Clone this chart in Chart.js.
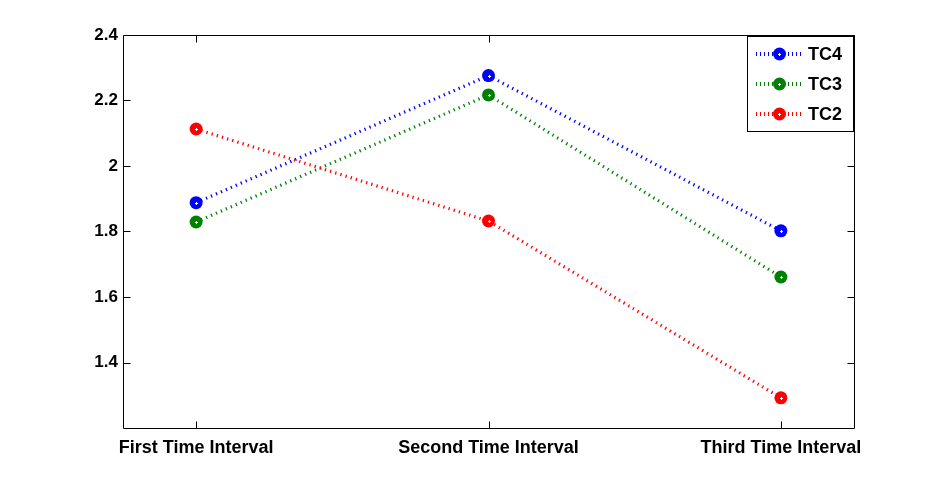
<!DOCTYPE html>
<html>
<head>
<meta charset="utf-8">
<script src="https://cdn.jsdelivr.net/npm/chart.js@4/dist/chart.umd.min.js"></script>
<style>
html,body{margin:0;padding:0;background:#fff;}
#wrap{width:944px;height:481px;position:relative;}
</style>
</head>
<body>
<div id="wrap"><canvas id="c" width="944" height="481"></canvas></div>
<script>
const categories = ["First Time Interval", "Second Time Interval", "Third Time Interval"];
const seriesNames = ["TC4", "TC3", "TC2"];
const tc4 = [1.888, 2.276, 1.802];
const tc3 = [1.829, 2.217, 1.661];
const tc2 = [2.113, 1.832, 1.292];
const yTicks = [1.4, 1.6, 1.8, 2, 2.2, 2.4];
const colors = ["#0000FF", "#008000", "#FF0000"];

const FONT = "'Liberation Sans', Arial, sans-serif";

function toPoints(arr){ return arr.map((v,i)=>({x:i+1, y:v})); }

function drawCentre(ctx, x, y){
  ctx.fillStyle = '#fff';
  ctx.fillRect(x - 1, y, 3, 1);
  ctx.fillRect(x, y - 1, 1, 3);
}

const seriesValues = [tc4, tc3, tc2];
const datasets = seriesValues.map((vals, k) => ({
  label: seriesNames[k],
  data: toPoints(vals),
  borderColor: colors[k],
  backgroundColor: colors[k],
  borderWidth: 3.2,
  borderDash: [1.3, 4.1],
  pointRadius: 6.5,
  pointHoverRadius: 6.5,
  pointBorderWidth: 0,
  pointBackgroundColor: colors[k],
  fill: false,
  tension: 0
})).reverse();

const framePlugin = {
  id: 'frame',
  afterDatasetsDraw(chart) {
    const ctx = chart.ctx;
    const a = chart.chartArea;
    const xs = chart.scales.x, ys = chart.scales.y;
    chart.data.datasets.forEach((ds, di) => {
      const meta = chart.getDatasetMeta(di);
      meta.data.forEach(pt => drawCentre(ctx, Math.round(pt.x), Math.round(pt.y)));
    });
    ctx.save();
    ctx.strokeStyle = '#000';
    ctx.lineWidth = 1;
    const L = Math.round(a.left) + 0.5, R = Math.round(a.right) + 0.5;
    const T = Math.round(a.top) + 0.5, B = Math.round(a.bottom) + 0.5;
    ctx.beginPath();
    ctx.rect(L, T, R - L, B - T);
    ctx.stroke();
    const tl = 7;
    ctx.beginPath();
    yTicks.forEach(v => {
      const y = Math.round(ys.getPixelForValue(v)) + 0.5;
      ctx.moveTo(L, y); ctx.lineTo(L + tl, y);
      ctx.moveTo(R, y); ctx.lineTo(R - tl, y);
    });
    categories.forEach((c, i) => {
      const x = Math.round(xs.getPixelForValue(i + 1)) + 0.5;
      ctx.moveTo(x, B); ctx.lineTo(x, B - tl);
      ctx.moveTo(x, T); ctx.lineTo(x, T + tl);
    });
    ctx.stroke();

    // legend
    const lx = 747.5, ly = 36.5, lw = 106, lh = 95;
    ctx.fillStyle = '#fff';
    ctx.fillRect(lx, ly, lw, lh);
    ctx.strokeStyle = '#000';
    ctx.lineWidth = 1;
    ctx.strokeRect(lx, ly, lw, lh);
    seriesNames.forEach((name, k) => {
      const cy = 54 + k * 30;
      ctx.strokeStyle = colors[k];
      ctx.lineWidth = 4;
      ctx.setLineDash([1, 3]);
      ctx.beginPath();
      ctx.moveTo(756, cy); ctx.lineTo(803, cy);
      ctx.stroke();
      ctx.setLineDash([]);
      ctx.fillStyle = colors[k];
      ctx.beginPath();
      ctx.arc(779.5, cy, 6.5, 0, Math.PI * 2);
      ctx.fill();
      drawCentre(ctx, 779, cy);
      ctx.fillStyle = '#000';
      ctx.font = 'bold 18px ' + FONT;
      ctx.textAlign = 'left';
      ctx.textBaseline = 'middle';
      ctx.fillText(name, 808, cy + 1);
    });
    ctx.restore();
  }
};

new Chart(document.getElementById('c'), {
  type: 'line',
  data: { datasets },
  options: {
    responsive: false,
    animation: false,
    devicePixelRatio: 1,
    layout: { padding: { left: 0, right: 90, top: 35, bottom: 0 } },
    plugins: { legend: { display: false }, tooltip: { enabled: false } },
    scales: {
      x: {
        type: 'linear',
        min: 0.75, max: 3.25,
        grid: { display: false, drawTicks: false },
        border: { display: false },
        afterBuildTicks(scale) { scale.ticks = categories.map((c, i) => ({ value: i + 1 })); },
        afterFit(scale) { scale.height = 53; },
        ticks: {
          autoSkip: false,
          maxRotation: 0,
          padding: 9,
          color: '#000',
          font: { family: FONT, size: 18, weight: 'bold' },
          callback: (v) => categories[v - 1] || ''
        }
      },
      y: {
        type: 'linear',
        min: 1.2, max: 2.4,
        grid: { display: false, drawTicks: false },
        border: { display: false },
        afterBuildTicks(scale) { scale.ticks = yTicks.map(v => ({ value: v })); },
        afterFit(scale) { scale.width = 123; },
        ticks: {
          padding: 5,
          color: '#000',
          font: { family: FONT, size: 17, weight: 'bold' },
          callback: (v) => String(Math.round(v * 10) / 10)
        }
      }
    }
  },
  plugins: [framePlugin]
});
</script>
</body>
</html>
